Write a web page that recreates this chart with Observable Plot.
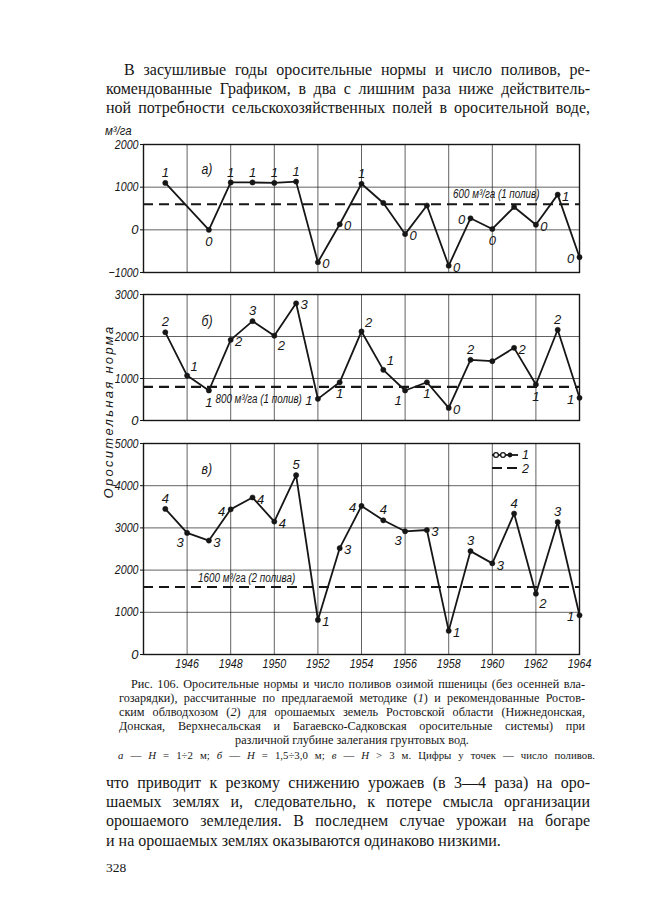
<!DOCTYPE html>
<html><head><meta charset="utf-8">
<script src="https://cdn.jsdelivr.net/npm/d3@7"></script>
<script src="https://cdn.jsdelivr.net/npm/@observablehq/plot@0.6"></script>
<style>
body{margin:0;background:#fff;width:645px;height:900px;position:relative;overflow:hidden;font-family:"Liberation Serif","DejaVu Serif",serif;color:#161616}
.blk{position:absolute}
.para{left:106px;width:484px;font-size:16px;line-height:19.2px}
.para .j{text-align:justify;text-align-last:justify}
.cap{left:119px;width:466px;font-size:12.2px;line-height:14px}
.cap .j{text-align:justify;text-align-last:justify}
.small{left:118px;width:477px;font-size:10.8px;text-align:justify;text-align-last:justify}
.ax{font-family:"Liberation Sans",Arial,sans-serif;font-style:italic;color:#161616}
#chart > div{position:absolute;left:0}
</style></head>
<body>
<div class="blk para" style="top:60px">
  <div class="j" style="text-indent:18px">В засушливые годы оросительные нормы и число поливов, ре-</div>
  <div class="j">комендованные Графиком, в два с лишним раза ниже действитель-</div>
  <div class="j">ной потребности сельскохозяйственных полей в оросительной воде,</div>
</div>

<div id="chart"></div>
<div class="blk ax" style="left:105px;top:123px;font-size:13px;transform:scaleX(0.88);transform-origin:left">м³/га</div>
<div class="blk ax" style="left:8px;top:404px;width:200px;text-align:center;font-size:13px;letter-spacing:2.3px;transform:rotate(-90deg)">Оросительная норма</div>
<svg class="blk" style="left:488px;top:446px" width="50" height="30">
  <line x1="4" y1="9" x2="30" y2="9" stroke="#161616" stroke-width="1.8"/>
  <circle cx="8" cy="9" r="2.4" fill="#fff" stroke="#161616" stroke-width="1.3"/>
  <circle cx="15" cy="9" r="2.4" fill="#fff" stroke="#161616" stroke-width="1.3"/>
  <circle cx="22" cy="9" r="2.4" fill="#161616"/>
  <line x1="4" y1="22" x2="30" y2="22" stroke="#161616" stroke-width="2" stroke-dasharray="10,5"/>
  <text x="34" y="13" font-family="Liberation Sans" font-style="italic" font-size="12.5" fill="#161616">1</text>
  <text x="34" y="26.5" font-family="Liberation Sans" font-style="italic" font-size="12.5" fill="#161616">2</text>
</svg>

<div class="blk cap" style="top:677px">
  <div class="j" style="text-indent:12px">Рис. 106. Оросительные нормы и число поливов озимой пшеницы (без осенней вла-</div>
  <div class="j">гозарядки), рассчитанные по предлагаемой методике (<i>1</i>) и рекомендованные Ростов-</div>
  <div class="j">ским облводхозом (<i>2</i>) для орошаемых земель Ростовской области (Нижнедонская,</div>
  <div class="j">Донская, Верхнесальская и Багаевско-Садковская оросительные системы) при</div>
  <div style="text-align:center">различной глубине залегания грунтовых вод.</div>
</div>
<div class="blk small" style="top:749px"><i>а</i> — <i>Н</i> = 1÷2 м; <i>б</i> — <i>Н</i> = 1,5÷3,0 м; <i>в</i> — <i>Н</i> &gt; 3 м. Цифры у точек — число поливов.</div>

<div class="blk para" style="top:773px">
  <div class="j">что приводит к резкому снижению урожаев (в 3—4 раза) на оро-</div>
  <div class="j">шаемых землях и, следовательно, к потере смысла организации</div>
  <div class="j">орошаемого земледелия. В последнем случае урожаи на богаре</div>
  <div>и на орошаемых землях оказываются одинаково низкими.</div>
</div>
<div class="blk" style="left:106px;top:860px;font-size:13.5px">328</div>

<script>
// ---- data ----
const yearsA = [1945,1947,1948,1949,1950,1951,1952,1953,1954,1955,1956,1957,1958,1959,1960,1961,1962,1963,1964];
const valuesA = [1100,0,1110,1110,1100,1130,-760,130,1080,630,-100,570,-840,270,20,535,120,825,-640];
const countsA = [1,0,1,1,1,1,0,0,1,null,0,null,0,0,0,null,0,1,0];
const placeA = ["n","s","n","n","n","n","e","e","n","","e","","e","w","s","","e","e","w"];

const yearsB = [1945,1946,1947,1948,1949,1950,1951,1952,1953,1954,1955,1956,1957,1958,1959,1960,1961,1962,1963,1964];
const valuesB = [2100,1070,714,1920,2365,2020,2790,515,910,2120,1206,714,910,300,1444,1413,1730,857,2160,540];
const countsB = [2,1,1,2,3,2,3,1,1,2,1,1,1,0,2,null,2,1,2,1];
const placeB = ["n","ne","s","e","n","se","e","w","s","ne","ne","sw","s","e","n","","e","s","n","w"];

const yearsC = [1945,1946,1947,1948,1949,1950,1951,1952,1953,1954,1955,1956,1957,1958,1959,1960,1961,1962,1963,1964];
const valuesC = [3450,2880,2700,3440,3720,3150,4250,820,2520,3520,3180,2920,2950,560,2450,2160,3340,1440,3140,930];
const countsC = [4,3,3,4,4,4,5,1,3,4,4,3,3,1,3,3,4,2,3,1];
const placeC = ["n","sw","e","w","e","e","n","e","e","w","n","sw","e","e","n","e","n","se","n","w"];

const normA = 600, normB = 800, normC = 1600;
const normLabelA = "600 м³/га (1 полив)";
const normLabelB = "800 м³/га (1 полив)";
const normLabelC = "1600 м³/га (2 полива)";
const xTicks = [1946,1948,1950,1952,1954,1956,1958,1960,1962,1964];
const ticksA = [-1000,0,1000,2000];
const ticksB = [0,1000,2000,3000];
const ticksC = [0,1000,2000,3000,4000,5000];

// ---- drawing ----
const ink = "#161616";
const offs = {n:[0,-10], s:[0,12], e:[8,2], w:[-9,2], ne:[7,-9], nw:[-7,-9], se:[7,10], sw:[-7,10]};
const font = "Liberation Sans, Arial, sans-serif";

function panel({years, values, counts, place, ticks, norm, normLabel, labelYear, labelDy, labelSize, letter, letterDy, top, mTop, mBottom, plotH, showX}) {
  const data = years.map((year, i) => ({year, value: values[i], n: counts[i], pos: place[i]}));
  const domain = [ticks[0], ticks[ticks.length - 1]];
  const labelMarks = Object.entries(offs).map(([k, [dx, dy]]) =>
    Plot.text(data.filter(d => d.pos === k && d.n != null), {
      x: "year", y: "value", text: d => String(d.n), dx, dy,
      fontSize: 13, fontStyle: "italic", fill: ink
    }));
  const svg = Plot.plot({
    width: 645, height: mTop + plotH + mBottom,
    marginLeft: 143, marginRight: 66, marginTop: mTop, marginBottom: mBottom,
    style: {fontFamily: font, fontStyle: "italic", fontSize: "13px", background: "transparent", color: ink, overflow: "visible"},
    x: {domain: [1944, 1964], ticks: xTicks, tickFormat: d => String(d), axis: showX ? "bottom" : null, tickSize: 0, tickPadding: 4, label: null},
    y: {domain, ticks, tickFormat: d => String(d).replace("-", "−"), tickSize: 3, tickPadding: 2, label: null},
    marks: [
      Plot.gridX(xTicks, {stroke: ink, strokeOpacity: 0.85, strokeWidth: 0.8}),
      Plot.gridY(ticks.slice(1, -1), {stroke: ink, strokeOpacity: 0.85, strokeWidth: 0.8}),
      Plot.frame({stroke: ink, strokeWidth: 1.4}),
      Plot.ruleY([norm], {stroke: ink, strokeWidth: 2.2, strokeDasharray: "10,6"}),
      Plot.text([normLabel], {x: labelYear, y: norm, text: d => d, dy: labelDy, textAnchor: "start", fontSize: labelSize, fontStyle: "italic", fill: ink}),
      Plot.text([letter], {frameAnchor: "top-left", dx: 58, dy: letterDy, fontSize: 15, fontStyle: "italic", fill: ink}),
      Plot.line(data, {x: "year", y: "value", stroke: ink, strokeWidth: 1.8}),
      Plot.dot(data, {x: "year", y: "value", r: 2.6, fill: ink, stroke: ink, strokeWidth: 0.5}),
      ...labelMarks
    ]
  });
  const holder = document.createElement("div");
  holder.style.top = (top - mTop) + "px";
  holder.appendChild(svg);
  document.getElementById("chart").appendChild(holder);
  // condensed drafting lettering: squeeze multi-character texts horizontally
  d3.select(svg).selectAll("text").each(function() {
    const t = this.textContent;
    if (t.length > 1) {
      const len = this.getComputedTextLength();
      if (len > 0) {
        this.setAttribute("textLength", (len * 0.82).toFixed(1));
        this.setAttribute("lengthAdjust", "spacingAndGlyphs");
      }
    }
  });
}

panel({years: yearsA, values: valuesA, counts: countsA, place: placeA, ticks: ticksA, norm: normA, normLabel: normLabelA,
  labelYear: 1958.2, labelDy: -10, labelSize: 12, letter: "а)", letterDy: 19, top: 144, mTop: 14, mBottom: 4, plotH: 128, showX: false});
panel({years: yearsB, values: valuesB, counts: countsB, place: placeB, ticks: ticksB, norm: normB, normLabel: normLabelB,
  labelYear: 1947.3, labelDy: 12, labelSize: 12, letter: "б)", letterDy: 21, top: 294, mTop: 14, mBottom: 4, plotH: 126, showX: false});
panel({years: yearsC, values: valuesC, counts: countsC, place: placeC, ticks: ticksC, norm: normC, normLabel: normLabelC,
  labelYear: 1946.5, labelDy: -9, labelSize: 12, letter: "в)", letterDy: 20, top: 443, mTop: 13, mBottom: 24, plotH: 211, showX: true});
</script>
</body></html>
